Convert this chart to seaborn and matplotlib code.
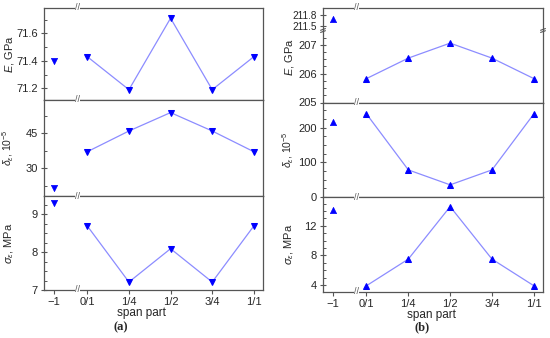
import pandas as pd
import seaborn as sns
import matplotlib.pyplot as plt
from matplotlib.ticker import AutoMinorLocator, FixedLocator
import matplotlib.transforms as mtransforms

# Positions on the broken x axis and their labels
span_labels = ['\u22121', '0/1', '1/4', '1/2', '3/4', '1/1']
span_pos = [-0.8, 0, 1, 2, 3, 4]

# (a)
a_E = [71.40, 71.43, 71.19, 71.71, 71.19, 71.43]
a_delta = [21.7, 37.1, 46.0, 53.9, 46.0, 37.1]
a_sigma = [9.29, 8.69, 7.21, 8.09, 7.21, 8.69]

# (b)
b_E = [211.69, 205.83, 206.54, 207.06, 206.54, 205.83]
b_delta = [217, 239, 78, 35, 78, 239]
b_sigma = [14.2, 3.9, 7.5, 14.6, 7.5, 3.9]

sns.set_style('ticks')
plt.rcParams['font.family'] = ['Liberation Sans', 'DejaVu Sans']
plt.rcParams['mathtext.fontset'] = 'custom'
plt.rcParams['mathtext.it'] = 'Liberation Sans:italic'
plt.rcParams['mathtext.rm'] = 'Liberation Sans'

LINE_C = '#8c8cff'
MARK_C = '#0000ff'
SPINE_C = '#555555'
FS = 8

fig = plt.figure(figsize=(5.5, 3.38), dpi=100)
W, H = 550, 338


def add_ax(x0, x1, ytop, ybot):
    return fig.add_axes([x0 / W, 1 - ybot / H, (x1 - x0) / W, (ybot - ytop) / H])


def draw(ax, vals, marker):
    df = pd.DataFrame({'x': span_pos, 'y': vals})
    sns.lineplot(data=df.iloc[1:], x='x', y='y', ax=ax, color=LINE_C, lw=0.9,
                 marker=marker, markersize=4.6, markerfacecolor=MARK_C,
                 markeredgecolor=MARK_C)
    sns.scatterplot(data=df.iloc[:1], x='x', y='y', ax=ax, marker=marker,
                    color=MARK_C, edgecolor=MARK_C, s=20, linewidth=0.5)


def style(ax, yticks, ylim, minor, bottom=False, top=True, fs=FS):
    ax.set_xlim(-1.04, 4.22)
    ax.set_ylim(*ylim)
    ax.yaxis.set_major_locator(FixedLocator(yticks))
    ax.yaxis.set_minor_locator(AutoMinorLocator(minor))
    ax.yaxis.set_major_formatter(plt.FuncFormatter(lambda v, p: f'{v:g}'))
    ax.set_xticks(span_pos)
    ax.set_xticklabels(span_labels if bottom else [])
    ax.tick_params(axis='x', which='both', bottom=bottom, top=False, direction='out',
                   length=3, width=0.8, color=SPINE_C, labelsize=FS, pad=2)
    ax.tick_params(axis='y', which='major', direction='inout', length=5, width=0.8,
                   color=SPINE_C, labelsize=fs, pad=2)
    ax.tick_params(axis='y', which='minor', direction='in', length=2.5, width=0.7,
                   color=SPINE_C)
    for s in ax.spines.values():
        s.set_color(SPINE_C)
        s.set_linewidth(0.9)
    ax.spines['top'].set_visible(top)
    ax.set_xlabel('')
    ax.set_ylabel('')


def xbreak(ax, y):
    tr = mtransforms.blended_transform_factory(ax.transData, ax.transAxes)
    ax.text(-0.24, y, '//', transform=tr, ha='center', va='center', fontsize=6.5,
            color=SPINE_C, clip_on=False, zorder=10,
            bbox=dict(facecolor='white', edgecolor='none', pad=0.2))


# ---------- (a) ----------
ax1 = add_ax(44, 263, 8, 100)
ax2 = add_ax(44, 263, 100, 196)
ax3 = add_ax(44, 263, 196, 290)
draw(ax1, a_E, 'v')
draw(ax2, a_delta, 'v')
draw(ax3, a_sigma, 'v')
style(ax1, [71.2, 71.4, 71.6], (71.115, 71.784), 2)
style(ax2, [30, 45], (18.1, 59.3), 2)
style(ax3, [7, 8, 9], (7.0, 9.48), 4, bottom=True)
ax1.set_ylabel('$E$, GPa', fontsize=FS)
ax2.set_ylabel('$\\delta_\\varepsilon$, 10$^{-5}$', fontsize=7.5)
ax3.set_ylabel('$\\sigma_\\varepsilon$, MPa', fontsize=FS)
for ax in (ax1, ax2, ax3):
    ax.yaxis.set_label_coords(-0.13, 0.5)
    xbreak(ax, 1.0)
xbreak(ax3, 0.0)
ax3.set_xlabel('span part', fontsize=8.5)
ax3.xaxis.set_label_coords(0.447, -0.18)

# ---------- (b) ----------
ax4u = add_ax(323, 543, 8, 31)
ax4 = add_ax(323, 543, 31, 102.5)
ax5 = add_ax(323, 543, 102.5, 197)
ax6 = add_ax(323, 543, 197, 292)
for ax in (ax4u, ax4):
    draw(ax, b_E, '^')
draw(ax5, b_delta, '^')
draw(ax6, b_sigma, '^')
style(ax4u, [211.5, 211.8], (211.37, 211.98), 2, fs=7.2)
ax4u.spines['bottom'].set_visible(False)
ax4u.yaxis.set_minor_locator(FixedLocator([]))
style(ax4, [205, 206, 207], (205.0, 207.48), 4, top=False)
style(ax5, [0, 100, 200], (0, 272), 4)
style(ax6, [4, 8, 12], (3.05, 15.9), 4, bottom=True)
ax4.set_ylabel('$E$, GPa', fontsize=FS)
ax4.yaxis.set_label_coords(-0.125, 0.64)
ax5.set_ylabel('$\\delta_\\varepsilon$, 10$^{-5}$', fontsize=7.5)
ax6.set_ylabel('$\\sigma_\\varepsilon$, MPa', fontsize=FS)
for ax in (ax5, ax6):
    ax.yaxis.set_label_coords(-0.125, 0.5)
for ax in (ax4u, ax5, ax6):
    xbreak(ax, 1.0)
xbreak(ax6, 0.0)
ax6.set_xlabel('span part', fontsize=8.5)
ax6.xaxis.set_label_coords(0.495, -0.18)

# y axis break marks between the two parts of the top right panel
for xa in (0.0, 1.0):
    for dy in (-0.008, 0.022):
        ax4.plot([xa - 0.011, xa + 0.011], [1 + dy - 0.012, 1 + dy + 0.012],
                 transform=ax4.transAxes, color=SPINE_C, lw=0.8, clip_on=False,
                 zorder=10)

fig.text(121 / W, 1 - 327 / H, '(a)', ha='center', va='center', fontsize=9,
         fontweight='bold', family='Liberation Serif')
fig.text(422 / W, 1 - 327 / H, '(b)', ha='center', va='center', fontsize=9,
         fontweight='bold', family='Liberation Serif')

fig.savefig('out.png', dpi=100)
